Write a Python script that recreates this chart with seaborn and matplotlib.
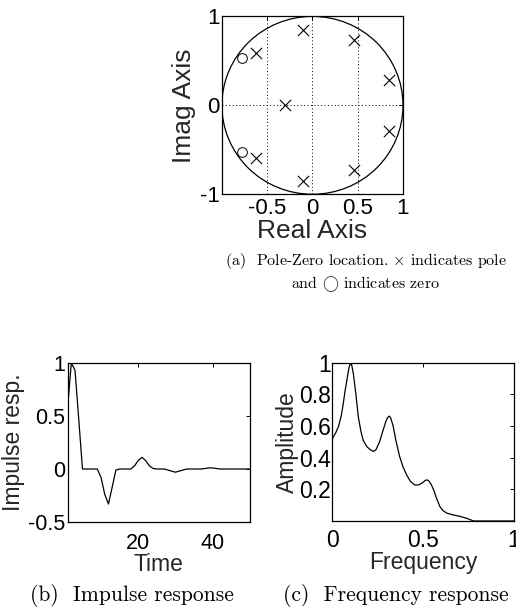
import numpy as np
import pandas as pd
import matplotlib
matplotlib.use("Agg")
import matplotlib.pyplot as plt
from matplotlib.patches import Circle
import seaborn as sns

# pole / zero locations
pole_re = [-0.10, -0.10, 0.46, 0.46, 0.84, 0.84, -0.62, -0.62, -0.30]
pole_im = [0.85, -0.85, 0.73, -0.73, 0.29, -0.29, 0.59, -0.59, 0.0]
zero_re = [-0.78, -0.78]
zero_im = [0.53, -0.53]

# impulse response, t = 1..50
time = list(range(1, 51))
impulse = [0.58, 1.0, 0.93, 0.47, 0.0, 0.0, 0.0, 0.0, 0.0, -0.08,
           -0.24, -0.33, -0.17, -0.01, 0.0, 0.0, 0.0, 0.0, 0.03, 0.08,
           0.11, 0.08, 0.03, 0.005, 0.0, 0.0, 0.0, -0.01, -0.02, -0.03,
           -0.02, -0.01, 0.0, 0.0, 0.0, 0.0, 0.0, 0.005, 0.01, 0.01,
           0.005, 0.0, 0.0, 0.0, 0.0, 0.0, 0.0, 0.0, 0.0, 0.0]

# frequency response
freq = [0.0, 0.02, 0.035, 0.05, 0.06, 0.07, 0.083, 0.092, 0.101, 0.108,
        0.116, 0.13, 0.143, 0.157, 0.17, 0.19, 0.21, 0.226, 0.24, 0.26,
        0.28, 0.295, 0.305, 0.314, 0.322, 0.335, 0.35, 0.37, 0.39, 0.41,
        0.43, 0.455, 0.475, 0.495, 0.51, 0.52, 0.53, 0.545, 0.56, 0.575,
        0.593, 0.61, 0.63, 0.666, 0.70, 0.74, 0.76, 0.778, 0.85, 1.0]
amp = [0.52, 0.56, 0.60, 0.67, 0.74, 0.82, 0.91, 0.97, 1.0, 0.98,
       0.93, 0.80, 0.66, 0.57, 0.51, 0.47, 0.45, 0.44, 0.45, 0.50,
       0.575, 0.63, 0.655, 0.663, 0.65, 0.60, 0.51, 0.41, 0.34, 0.29,
       0.25, 0.227, 0.228, 0.24, 0.255, 0.26, 0.255, 0.23, 0.19, 0.14,
       0.09, 0.065, 0.05, 0.038, 0.03, 0.017, 0.008, 0.0, 0.0, 0.0]

sns.set_theme(style="white")
plt.rcParams["font.family"] = ["Liberation Sans", "DejaVu Sans"]
plt.rcParams["mathtext.fontset"] = "cm"
plt.rcParams["axes.edgecolor"] = "black"
plt.rcParams["axes.linewidth"] = 0.9

cap_a = dict(family="cmr10", fontsize=11.5, color="black")
cap_bc = dict(family="cmr10", fontsize=15.5, color="black")

fig = plt.figure(figsize=(5.16, 6.07), dpi=100)


def matlab_box(ax, xpad, ypad, fs):
    ax.tick_params(direction="in", top=True, right=True, length=3, width=0.7,
                   labelsize=fs, colors="black")
    ax.tick_params(axis="x", pad=xpad)
    ax.tick_params(axis="y", pad=ypad)
    for s in ax.spines.values():
        s.set_visible(True)
        s.set_color("black")


# (a) pole-zero map
ax1 = fig.add_axes([0.430, 0.680, 0.351, 0.293])
ax1.add_patch(Circle((0, 0), 1, fill=False, ec="black", lw=0.9))
poles = pd.DataFrame({"re": pole_re, "im": pole_im})
zeros = pd.DataFrame({"re": zero_re, "im": zero_im})
sns.scatterplot(data=poles, x="re", y="im", marker="x", s=65, color="black",
                linewidth=0.8, ax=ax1, zorder=3)
ax1.plot(zeros["re"], zeros["im"], "o", mfc="none", mec="black", ms=7, mew=0.7)
ax1.set_xlim(-1, 1)
ax1.set_ylim(-1, 1)
ax1.set_xticks([-0.5, 0, 0.5, 1])
ax1.set_xticklabels(["-0.5", "0", "0.5", "1"])
ax1.set_yticks([-1, 0, 1])
ax1.set_yticklabels(["-1", "0", "1"])
ax1.grid(True, linestyle=(0, (1, 2.5)), color="black", linewidth=0.7)
matlab_box(ax1, 3, 1.5, 16)
ax1.set_xlabel("Real Axis", fontsize=19, labelpad=-0.5)
ax1.set_ylabel("Imag Axis", fontsize=19, labelpad=3)

fig.text(0.709, 0.563, r"(a)  Pole-Zero location. $\times$ indicates pole",
         ha="center", va="baseline", **cap_a)
fig.text(0.709, 0.525, r"and $\bigcirc$ indicates zero",
         ha="center", va="baseline", **cap_a)

# (b) impulse response
ax2 = fig.add_axes([0.131, 0.140, 0.353, 0.262])
sns.lineplot(x=time, y=impulse, color="black", lw=0.9, ax=ax2)
ax2.set_xlim(1, 50)
ax2.set_ylim(-0.5, 1)
ax2.set_xticks([20, 40])
ax2.set_yticks([-0.5, 0, 0.5, 1])
ax2.set_yticklabels(["-0.5", "0", "0.5", "1"])
matlab_box(ax2, 8, 1.5, 15.5)
ax2.set_xlabel("Time", fontsize=16.5, labelpad=-0.5)
ax2.set_ylabel("Impulse resp.", fontsize=16.5, labelpad=2)
fig.text(0.256, 0.010, "(b)  Impulse response", ha="center", va="baseline",
         **cap_bc)

# (c) frequency response
ax3 = fig.add_axes([0.644, 0.1417, 0.352, 0.2606])
sns.lineplot(x=freq, y=amp, color="black", lw=0.9, ax=ax3)
ax3.set_xlim(0, 1)
ax3.set_ylim(0, 1)
ax3.set_xticks([0, 0.5, 1])
ax3.set_xticklabels(["0", "0.5", "1"])
ax3.set_yticks([0.2, 0.4, 0.6, 0.8, 1])
ax3.set_yticklabels(["0.2", "0.4", "0.6", "0.8", "1"])
matlab_box(ax3, 6, 1, 16.5)
ax3.set_xlabel("Frequency", fontsize=16.5, labelpad=-1)
ax3.set_ylabel("Amplitude", fontsize=16.5, labelpad=0)
fig.text(0.767, 0.010, "(c)  Frequency response", ha="center", va="baseline",
         **cap_bc)

fig.savefig("out.png", dpi=100)
